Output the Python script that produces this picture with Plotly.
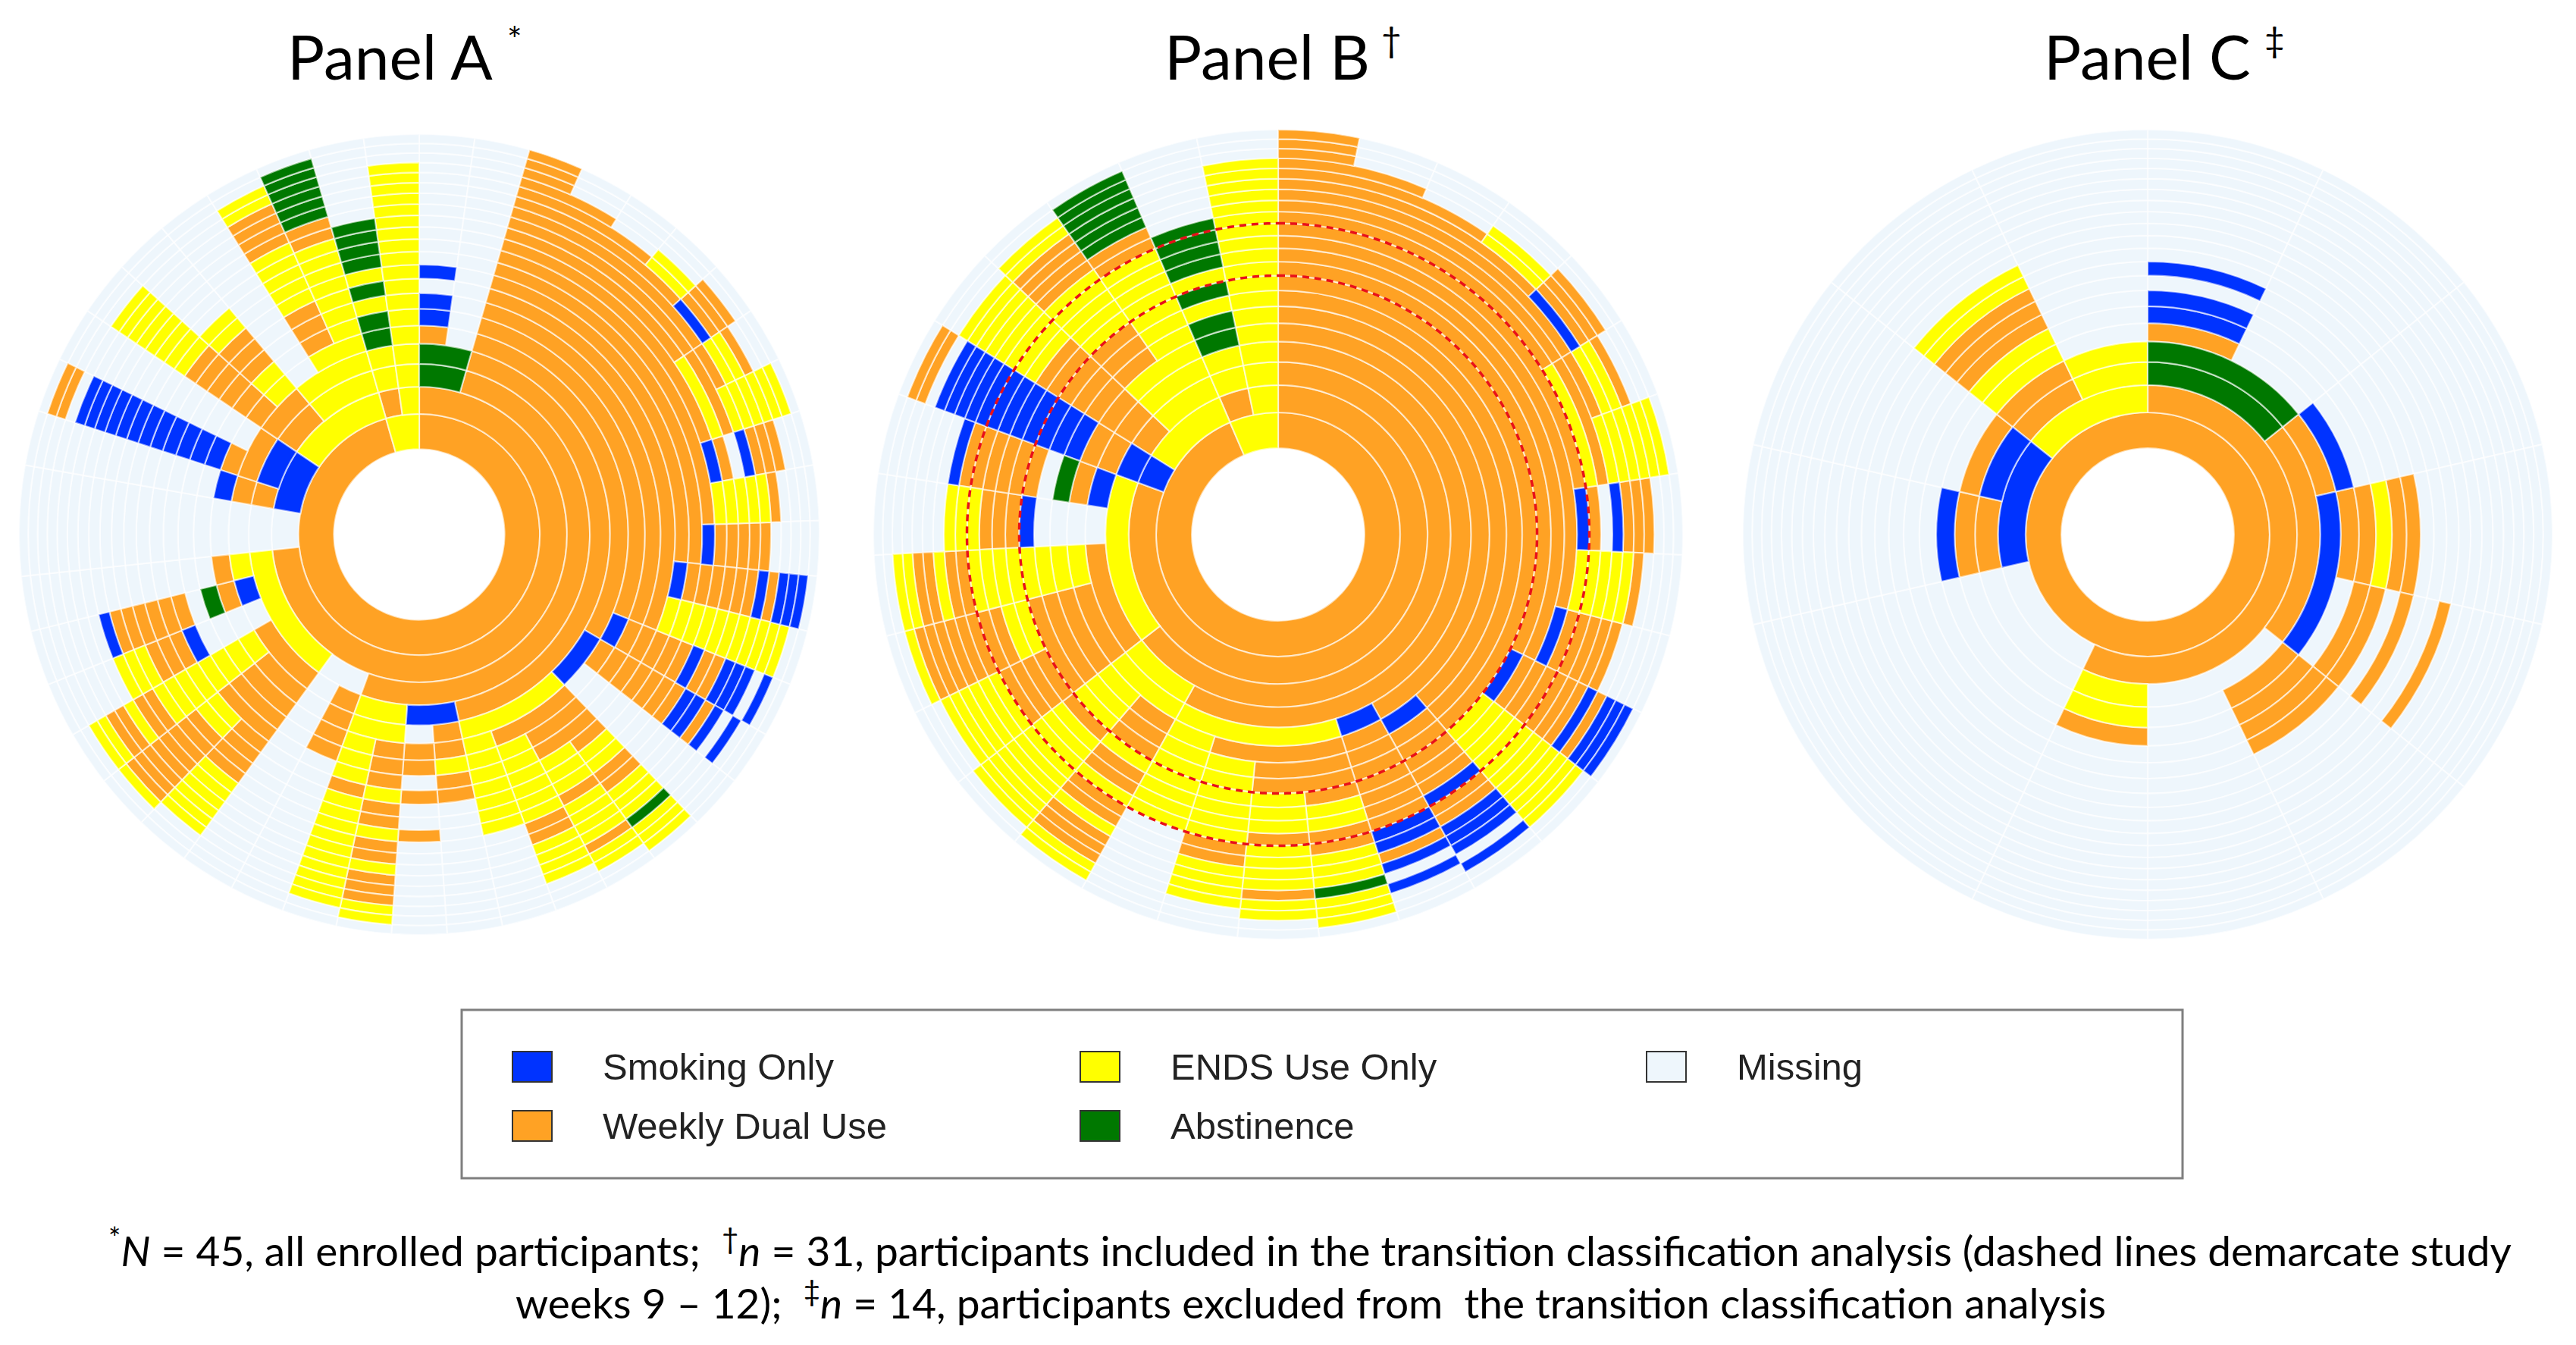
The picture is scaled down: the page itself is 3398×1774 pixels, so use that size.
import numpy as np
import plotly.graph_objects as go

# weekly status per participant, ring 1 = study week 1 (outward)
# A = abstinence, D = weekly dual use, M = missing, S = smoking only, E = ENDS use only
# letters after the last one shown are missing weeks
N_WEEKS = 21
ORDER = "ADMSE"

panel_b = [
    "DDDDDDDDDDDDDDDDDDDDD",
    "DDDDDDDDDDDDDDDDDD",
    "DDDDDDDDDDDDDDDDD",
    "DDDDDDDDDDDDDDDDEE",
    "DDDDDDDDDDDDDDDSDDD",
    "DDDDDDDDDDDDEDDEED",
    "DDDDDDDDDDDDEDEEEEEE",
    "DDDDDDDDDDDSDMSDDD",
    "DDDDDDDDDDDEEEEED",
    "DDDDDDDDDDSDDDDD",
    "DDDDDDDDSDDDDDDSDSSS",
    "DDDDDDDDEEEEEEEEEEE",
    "DDDDDSDDDDDSDDSSSMS",
    "DDDDSDDDDDDDSSDSMS",
    "DDDDEDDDDEEDDEEEAEEE",
    "DDDDEDDDEEEDEEEEDEE",
    "DDDDEDEEEEEEDDEEEE",
    "DDDDEEEEEEEE",
    "DDDEEDDDEDDEDDEDDDEE",
    "DDDEEEEEDEEEEEEEEEE",
    "DDEDDDDDDDDDEEEEEE",
    "DDEDDDDDEEDDDDDDDDE",
    "DDEDEEEEEEEEDDEDDEE",
    "DDEMMMMSDDDEEE",
    "DDESDAMDDDDDDS",
    "DSSDDSSSSSSSSSSSSMDD",
    "DEDDDDDDDDEEEEEEEE",
    "DEEEEDDDEEEEEDDDDEE",
    "DEEEEEEEEEEEDDAAAAAA",
    "EDEEAAEAEAAAA",
    "EEEEEEEEEEEEEEEEEE",
]

panel_c = [
    "DDAADSSMS",
    "DDAA",
    "DDDDS",
    "DDDSDDEDD",
    "DDDSMDDMDMMD",
    "DDMDDDD",
    "DD",
    "DDEED",
    "D",
    "D",
    "DSDDS",
    "DSSD",
    "DEDDEEDDDEE",
    "DEEE",
]

# all enrolled participants = included + excluded
panel_a = panel_b + panel_c

state_names = {
    "S": "Smoking Only",
    "D": "Weekly Dual Use",
    "E": "ENDS Use Only",
    "A": "Abstinence",
    "M": "Missing",
}
state_colors = {
    "S": "#0033FF",
    "D": "#FFA224",
    "E": "#FFFF00",
    "A": "#007800",
    "M": "#EEF6FC",
}
dashed_weeks = [9, 12]

W, H = 3398, 1774


def px(x):
    return x / W


def py(y):
    return 1 - y / H


def sector_runs(seqs, k):
    # neighbours sharing the same history up to week k are drawn as one sector
    runs = []
    start = 0
    for i in range(1, len(seqs) + 1):
        if i == len(seqs) or seqs[i][:k + 1] != seqs[start][:k + 1]:
            runs.append((start, i, seqs[start][k]))
            start = i
    return runs


def add_panel(fig, seqs, polar_id):
    seqs = sorted((s.ljust(N_WEEKS, "M") for s in seqs),
                  key=lambda s: [ORDER.index(c) for c in s])
    step = 360 / len(seqs)
    cells = {c: {"theta": [], "width": [], "base": [], "r": []} for c in ORDER}
    for k in range(N_WEEKS):
        # equal-area rings: radius grows with the square root of the week
        inner, outer = np.sqrt(k + 1), np.sqrt(k + 2)
        for a, b, state in sector_runs(seqs, k):
            d = cells[state]
            d["theta"].append((a + b) / 2 * step)
            d["width"].append((b - a) * step)
            d["base"].append(inner)
            d["r"].append(outer - inner)
    for state in "MDESA":
        d = cells[state]
        if not d["theta"]:
            continue
        fig.add_trace(go.Barpolar(
            theta=d["theta"], width=d["width"], base=d["base"], r=d["r"],
            marker=dict(color=state_colors[state],
                        line=dict(color="rgba(255,255,255,0.6)", width=2.2)),
            name=state_names[state], hoverinfo="skip", subplot=polar_id,
        ))


fig = go.Figure()
CY = 697
panels = [
    ("polar", panel_a, 545, 528),
    ("polar2", panel_b, 1678, 534),
    ("polar3", panel_c, 2825, 534),
]
r_max = np.sqrt(N_WEEKS + 1)
layout_polars = {}
for pid, seqs, cx, rad in panels:
    add_panel(fig, seqs, pid)
    layout_polars[pid] = dict(
        domain=dict(x=[px(cx - rad), px(cx + rad)], y=[py(CY + rad), py(CY - rad)]),
        bgcolor="white",
        barmode="overlay",
        angularaxis=dict(visible=False, rotation=90, direction="clockwise"),
        radialaxis=dict(visible=False, range=[0, r_max]),
    )

# dashed circles for study weeks 9-12 in panel B
theta_circle = np.linspace(0, 360, 721)
for rr in [np.sqrt(dashed_weeks[0]), np.sqrt(dashed_weeks[1] + 1)]:
    fig.add_trace(go.Scatterpolar(
        theta=theta_circle, r=np.full(theta_circle.size, rr), mode="lines",
        line=dict(color="#E8101A", width=3.5, dash="9px,7px"),
        hoverinfo="skip", subplot="polar2",
    ))

annotations = []
titles = [("Panel A", "*", 506, 671), ("Panel B", "†", 1663, 1828), ("Panel C", "‡", 2824, 2992)]
for text, mark, tx, mx in titles:
    annotations.append(dict(x=px(tx), y=py(65), text=text, showarrow=False,
                            font=dict(family="Lato", size=82, color="black"),
                            xanchor="center", yanchor="middle"))
    annotations.append(dict(x=px(mx), y=py(43), text=mark, showarrow=False,
                            font=dict(family="Lato", size=46, color="black"),
                            xanchor="center", yanchor="middle"))

shapes = [dict(type="rect", xref="paper", yref="paper",
               x0=px(601), x1=px(2871), y0=py(1546), y1=py(1324),
               line=dict(color="#7F7F7F", width=3), fillcolor="white")]
legend_items = [("S", 668, 1399), ("D", 668, 1477), ("E", 1417, 1399),
                ("A", 1417, 1477), ("M", 2164, 1399)]
for state, lx, ly in legend_items:
    shapes.append(dict(type="rect", xref="paper", yref="paper",
                       x0=px(lx), x1=px(lx + 52), y0=py(ly + 20), y1=py(ly - 20),
                       line=dict(color="#333333", width=2),
                       fillcolor=state_colors[state]))
    annotations.append(dict(x=px(lx + 117), y=py(ly), text=state_names[state],
                            showarrow=False, xanchor="left", yanchor="middle",
                            font=dict(family="Liberation Sans", size=49, color="#222222")))

foot1 = ("<sup>*</sup><i>N</i> = 45, all enrolled participants;  <sup>†</sup><i>n</i> = 31, "
         "participants included in the transition classification analysis (dashed lines demarcate study")
foot2 = ("weeks 9 – 12);  <sup>‡</sup><i>n</i> = 14, participants excluded from  "
         "the transition classification analysis")
annotations.append(dict(x=px(1720), y=py(1637), text=foot1, showarrow=False,
                        xanchor="center", yanchor="middle",
                        font=dict(family="Lato", size=55, color="black")))
annotations.append(dict(x=px(1721), y=py(1706), text=foot2, showarrow=False,
                        xanchor="center", yanchor="middle",
                        font=dict(family="Lato", size=55, color="black")))

fig.update_layout(
    width=W, height=H, margin=dict(l=0, r=0, t=0, b=0),
    paper_bgcolor="white", plot_bgcolor="white", showlegend=False,
    annotations=annotations, shapes=shapes, **layout_polars,
)

fig.write_html("out.html")
